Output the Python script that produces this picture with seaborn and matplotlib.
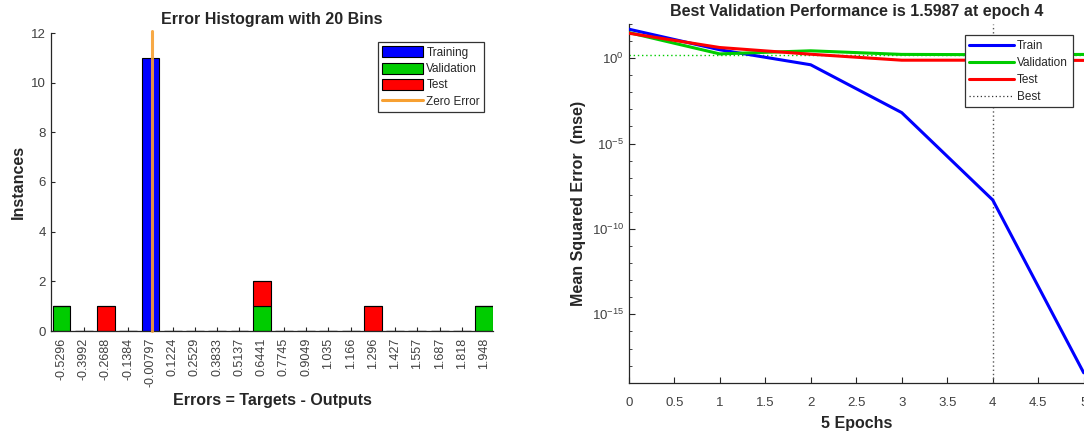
import numpy as np
import pandas as pd
import matplotlib
matplotlib.use("Agg")
import matplotlib.pyplot as plt
import seaborn as sns
from matplotlib.patches import Patch
from matplotlib.lines import Line2D

# ---- error histogram data (20 bins) ----
bin_centers = [-0.5296, -0.3992, -0.2688, -0.1384, -0.00797, 0.1224, 0.2529,
               0.3833, 0.5137, 0.6441, 0.7745, 0.9049, 1.035, 1.166, 1.296,
               1.427, 1.557, 1.687, 1.818, 1.948]
bin_labels = ["-0.5296", "-0.3992", "-0.2688", "-0.1384", "-0.00797", "0.1224",
              "0.2529", "0.3833", "0.5137", "0.6441", "0.7745", "0.9049",
              "1.035", "1.166", "1.296", "1.427", "1.557", "1.687", "1.818",
              "1.948"]
training_counts = [0, 0, 0, 0, 11, 0, 0, 0, 0, 0, 0, 0, 0, 0, 0, 0, 0, 0, 0, 0]
validation_counts = [1, 0, 0, 0, 0, 0, 0, 0, 0, 1, 0, 0, 0, 0, 0, 0, 0, 0, 0, 1]
test_counts = [0, 0, 1, 0, 0, 0, 0, 0, 0, 1, 0, 0, 0, 0, 1, 0, 0, 0, 0, 0]

# ---- training performance data ----
epochs = [0, 1, 2, 3, 4, 5]
train_mse = [50.0, 3.1, 0.41, 6.5e-4, 5e-9, 3.8e-19]
val_mse = [31.6, 1.78, 2.7, 1.66, 1.5987, 1.65]
test_mse = [29.0, 4.2, 1.7, 0.76, 0.76, 0.74]
best_epoch = 4
best_perf = 1.5987

C_TRAIN = "#0000ff"
C_VAL = "#00cc00"
C_TEST = "#ff0000"
C_ZERO = "#f7a032"
TXT = "#404040"

sns.set_theme(style="ticks")
plt.rcParams["font.family"] = ["Liberation Sans", "DejaVu Sans"]
plt.rcParams["mathtext.fontset"] = "custom"
plt.rcParams["mathtext.rm"] = "Liberation Sans"

fig = plt.figure(figsize=(10.84, 4.34), dpi=100)
W, H = 1084, 434


def px_axes(x0, y0, x1, y1):
    return fig.add_axes([x0 / W, 1 - y1 / H, (x1 - x0) / W, (y1 - y0) / H])


# ================= left: error histogram =================
ax1 = px_axes(51, 33, 493, 331)

rows = []
for name, counts in (("Training", training_counts),
                     ("Validation", validation_counts),
                     ("Test", test_counts)):
    for c, n in zip(bin_centers, counts):
        if n > 0:
            rows.append({"error": c, "count": n, "subset": name})
hist_df = pd.DataFrame(rows)

step = (bin_centers[-1] - bin_centers[0]) / (len(bin_centers) - 1)
edges = [c - step / 2 for c in bin_centers] + [bin_centers[-1] + step / 2]

sns.histplot(data=hist_df, x="error", weights="count", hue="subset",
             hue_order=["Training", "Test", "Validation"],
             palette={"Training": C_TRAIN, "Validation": C_VAL, "Test": C_TEST},
             bins=edges, multiple="stack", shrink=0.8, alpha=1,
             edgecolor="black", linewidth=0.8, legend=False, ax=ax1)

ax1.plot([0, 0], [0, 12.1], color=C_ZERO, lw=2.2, alpha=0.9, zorder=5,
         clip_on=False)

ax1.set_xlim(bin_centers[0] - 0.47 * step, bin_centers[-1] + 0.40 * step)
ax1.set_ylim(0, 12)
ax1.set_yticks([0, 2, 4, 6, 8, 10, 12])
ax1.set_xticks(bin_centers)
ax1.set_xticklabels(bin_labels, rotation=90)
ax1.tick_params(axis="both", direction="in", length=3, width=0.8,
                colors="#262626", labelcolor=TXT, labelsize=9.5)
ax1.tick_params(axis="x", pad=5, labelsize=9)
for s in ("top", "right"):
    ax1.spines[s].set_visible(False)
for s in ("left", "bottom"):
    ax1.spines[s].set_color("#262626")
    ax1.spines[s].set_linewidth(0.9)

ax1.set_title("Error Histogram with 20 Bins", fontsize=11.5,
              fontweight="bold", pad=6.5)
ax1.set_xlabel("Errors = Targets - Outputs", fontsize=11.5,
               fontweight="bold", labelpad=4)
ax1.set_ylabel("Instances", fontsize=11.5, fontweight="bold", labelpad=4)

leg1_handles = [
    Patch(facecolor=C_TRAIN, edgecolor="black", lw=0.8, label="Training"),
    Patch(facecolor=C_VAL, edgecolor="black", lw=0.8, label="Validation"),
    Patch(facecolor=C_TEST, edgecolor="black", lw=0.8, label="Test"),
    Line2D([], [], color=C_ZERO, lw=2.2, label="Zero Error"),
]
leg1 = ax1.legend(handles=leg1_handles, loc="upper right",
                  bbox_to_anchor=(0.98, 0.969), borderaxespad=0,
                  fontsize=8.5, frameon=True, fancybox=False,
                  edgecolor="#333333", framealpha=1, handlelength=3.5,
                  handleheight=1.05, handletextpad=0.25, labelspacing=0.32,
                  borderpad=0.35)
leg1.get_frame().set_linewidth(0.9)

# ================= right: performance curves =================
ax2 = px_axes(628.7, 24, 1083.7, 382.7)

perf_df = pd.DataFrame({
    "epoch": epochs * 3,
    "mse": train_mse + val_mse + test_mse,
    "subset": ["Train"] * len(epochs) + ["Validation"] * len(epochs)
              + ["Test"] * len(epochs),
})
ax2.set_yscale("log")
ax2.axhline(best_perf, color=C_VAL, lw=1.0, ls=(0, (1, 2)), zorder=1)
ax2.axvline(best_epoch, color="#555555", lw=1.0, ls=(0, (1, 2)), zorder=1)
sns.lineplot(data=perf_df, x="epoch", y="mse", hue="subset",
             hue_order=["Train", "Validation", "Test"],
             palette={"Train": C_TRAIN, "Validation": C_VAL, "Test": C_TEST},
             lw=2.2, legend=False, ax=ax2, zorder=3)

ax2.set_xlim(0, 5)
ax2.set_ylim(1e-19, 1e2)
ax2.set_xticks([0, 0.5, 1, 1.5, 2, 2.5, 3, 3.5, 4, 4.5, 5])
ax2.set_xticklabels(["0", "0.5", "1", "1.5", "2", "2.5", "3", "3.5", "4",
                     "4.5", "5"])
major_exp = [0, -5, -10, -15]
ax2.set_yticks([10.0 ** e for e in major_exp])
ax2.set_yticklabels([r"$\mathregular{10^{%d}}$" % e for e in major_exp])
ax2.set_yticks([10.0 ** e for e in range(-19, 3) if e not in major_exp],
               minor=True)
ax2.yaxis.set_minor_formatter(plt.NullFormatter())
ax2.tick_params(axis="both", which="major", direction="in", length=4,
                width=0.8, colors="#262626", labelcolor=TXT, labelsize=9.5)
ax2.tick_params(axis="y", which="minor", direction="in", length=2,
                width=0.6, colors="#262626")
ax2.tick_params(axis="x", pad=10)
for s in ("top", "right"):
    ax2.spines[s].set_visible(False)
for s in ("left", "bottom"):
    ax2.spines[s].set_color("#262626")
    ax2.spines[s].set_linewidth(0.9)

ax2.set_title("Best Validation Performance is 1.5987 at epoch 4",
              fontsize=11.5, fontweight="bold", pad=5.5)
ax2.set_xlabel("5 Epochs", fontsize=11.5, fontweight="bold", labelpad=5)
ax2.set_ylabel("Mean Squared Error  (mse)", fontsize=11.5,
               fontweight="bold", labelpad=4)

leg2_handles = [
    Line2D([], [], color=C_TRAIN, lw=2.2, label="Train"),
    Line2D([], [], color=C_VAL, lw=2.2, label="Validation"),
    Line2D([], [], color=C_TEST, lw=2.2, label="Test"),
    Line2D([], [], color="#333333", lw=0.9, ls=(0, (1, 2)), label="Best"),
]
leg2 = ax2.legend(handles=leg2_handles, loc="upper right",
                  bbox_to_anchor=(0.976, 0.969), borderaxespad=0,
                  fontsize=8.5, frameon=True, fancybox=False,
                  edgecolor="#333333", framealpha=1, handlelength=3.8,
                  handletextpad=0.25, labelspacing=0.42, borderpad=0.4)
leg2.get_frame().set_linewidth(0.9)

fig.savefig("out.png", dpi=100)
